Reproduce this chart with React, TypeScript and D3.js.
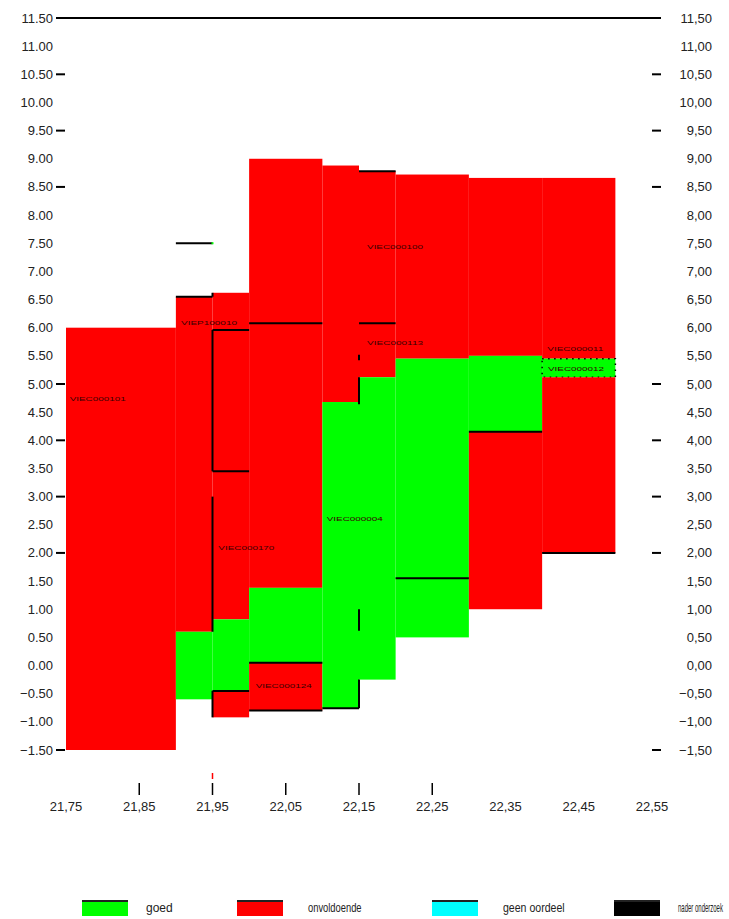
import React from "react";
import * as d3 from "d3";

// ---- data ----
const yTickValues = [11.5, 11, 10.5, 10, 9.5, 9, 8.5, 8, 7.5, 7, 6.5, 6, 5.5, 5, 4.5, 4, 3.5, 3, 2.5, 2, 1.5, 1, 0.5, 0, -0.5, -1, -1.5];
const yMarkedTicks = [10.5, 9.5, 8.5, 5, 4, 3, 2, -1.5];
const xTickValues = [21.75, 21.85, 21.95, 22.05, 22.15, 22.25, 22.35, 22.45, 22.55];
const xMarkedTicks = [21.85, 21.95, 22.05, 22.15, 22.25];
const xRedTicks = [21.95];

// blocks: [start km, end km, bottom, top, status]
const blockStart = [21.75, 21.9, 21.9, 21.95, 21.95, 21.95, 22.0, 22.0, 22.0, 22.1, 22.1, 22.15, 22.15, 22.2, 22.2, 22.3, 22.3, 22.3, 22.4, 22.4, 22.4];
const blockEnd = [21.9, 21.95, 21.95, 22.0, 22.0, 22.0, 22.1, 22.1, 22.1, 22.15, 22.15, 22.2, 22.2, 22.3, 22.3, 22.4, 22.4, 22.4, 22.5, 22.5, 22.5];
const blockLow = [-1.5, 0.6, -0.6, 0.82, -0.45, -0.92, 1.38, 0.05, -0.8, 4.68, -0.76, 5.12, -0.25, 5.45, 0.5, 5.5, 4.15, 1.0, 5.45, 5.12, 2.0];
const blockHigh = [6.0, 6.55, 0.6, 6.62, 0.82, -0.45, 9.0, 1.38, 0.05, 8.88, 4.68, 8.78, 5.12, 8.72, 5.45, 8.66, 5.5, 4.15, 8.66, 5.45, 5.12];
const blockStatus = ["o", "o", "g", "o", "g", "o", "o", "g", "o", "o", "g", "o", "g", "o", "g", "o", "g", "o", "o", "gd", "o"];

// horizontal black lines: start, end, value
const hLineStart = [21.9, 21.9, 21.95, 21.95, 22.0, 22.15, 22.15, 22.2, 22.3, 22.4, 21.95, 22.0, 22.0, 22.1];
const hLineEnd = [21.95, 21.95, 22.0, 22.0, 22.1, 22.2, 22.2, 22.3, 22.4, 22.5, 22.0, 22.1, 22.1, 22.15];
const hLineValue = [7.5, 6.55, 5.96, 3.45, 6.08, 6.08, 8.78, 1.55, 4.15, 2.0, -0.45, 0.05, -0.8, -0.76];

// vertical black lines: km, from, to
const vLineKm = [21.95, 21.95, 21.95, 21.95, 22.15, 22.15, 22.15, 22.15];
const vLineFrom = [6.55, 3.45, 0.6, -0.92, 5.42, 4.64, 0.62, -0.76];
const vLineTo = [6.62, 5.96, 3.0, -0.45, 5.52, 5.12, 1.0, -0.25];

// small green marker at end of the 7.50 line
const markerKm = [21.95];
const markerValue = [7.5];

// section labels
const labelText = ["VIEC000101", "VIEP100010", "VIEC000100", "VIEC000113", "VIEC000004", "VIEC000170", "VIEC000124", "VIEC000011", "VIEC000012"];
const labelKm = [21.755, 21.907, 22.161, 22.161, 22.106, 21.958, 22.009, 22.407, 22.408];
const labelValue = [4.74, 6.08, 7.43, 5.73, 2.6, 2.09, -0.37, 5.62, 5.27];

const legendLabels = ["goed", "onvoldoende", "geen oordeel", "nader onderzoek"];
const legendColors = ["#00ff00", "#ff0000", "#00ffff", "#000000"];
const legendX = [82, 237, 432, 614];
const legendTextX = [146, 308, 503, 678];
const legendScale = [1, 0.78, 0.88, 0.5];

const statusColor: Record<string, string> = { o: "#ff0000", g: "#00ff00", gd: "#00ff00" };

export default function App() {
  const x = d3.scaleLinear().domain([21.75, 22.55]).range([66, 652]);
  const y = d3.scaleLinear().domain([-1.5, 11.5]).range([750, 18]);
  const fmtL = d3.format(".2f");
  const fmtR = (v: number) => d3.format(".2f")(v).replace(".", ",");
  const font = "'Liberation Sans', Arial, sans-serif";

  return (
    <div style={{ position: "absolute", left: 0, top: 0 }}>
      <svg width={729} height={919} style={{ display: "block", background: "#fff" }} fontFamily={font}>
        {/* blocks */}
        {blockStart.map((s, i) => (
          <rect
            key={"b" + i}
            x={x(s)}
            y={y(blockHigh[i])}
            width={x(blockEnd[i]) - x(s)}
            height={y(blockLow[i]) - y(blockHigh[i])}
            fill={statusColor[blockStatus[i]]}
            stroke={blockStatus[i] === "gd" ? "#000" : "none"}
            strokeWidth={blockStatus[i] === "gd" ? 1.5 : 0}
            strokeDasharray={blockStatus[i] === "gd" ? "1.5 4.5" : undefined}
          />
        ))}
        {/* horizontal lines */}
        {hLineStart.map((s, i) => (
          <line key={"h" + i} x1={x(s)} x2={x(hLineEnd[i])} y1={y(hLineValue[i])} y2={y(hLineValue[i])} stroke="#000" strokeWidth={2} />
        ))}
        {/* vertical lines */}
        {vLineKm.map((k, i) => (
          <line key={"v" + i} x1={x(k)} x2={x(k)} y1={y(vLineFrom[i])} y2={y(vLineTo[i])} stroke="#000" strokeWidth={2} />
        ))}
        {markerKm.map((k, i) => (
          <rect key={"m" + i} x={x(k) - 1} y={y(markerValue[i]) - 1} width={2} height={2} fill="#00ff00" />
        ))}
        {/* labels */}
        {labelText.map((t, i) => (
          <text key={"l" + i} x={x(labelKm[i])} y={y(labelValue[i])} fontSize={6} dominantBaseline="central" fill="#3a0000" textLength={56} lengthAdjust="spacingAndGlyphs">
            {t}
          </text>
        ))}
        {/* top line */}
        <line x1={56} x2={661} y1={y(11.5)} y2={y(11.5)} stroke="#000" strokeWidth={2} />
        {/* y ticks */}
        {yMarkedTicks.map((v, i) => (
          <g key={"yt" + i}>
            <line x1={56} x2={65} y1={y(v)} y2={y(v)} stroke="#000" strokeWidth={2} />
            <line x1={652} x2={661} y1={y(v)} y2={y(v)} stroke="#000" strokeWidth={2} />
          </g>
        ))}
        {yTickValues.map((v, i) => (
          <g key={"yl" + i}>
            <text x={53} y={y(v)} textAnchor="end" dominantBaseline="central" fontSize={13} fill="#222">
              {fmtL(v)}
            </text>
            <text x={712} y={y(v)} textAnchor="end" dominantBaseline="central" fontSize={13} fill="#222">
              {fmtR(v)}
            </text>
          </g>
        ))}
        {/* x ticks */}
        {xMarkedTicks.map((v, i) => (
          <line key={"xt" + i} x1={x(v)} x2={x(v)} y1={783} y2={795} stroke="#000" strokeWidth={1.5} />
        ))}
        {xRedTicks.map((v, i) => (
          <line key={"xr" + i} x1={x(v)} x2={x(v)} y1={773} y2={779} stroke="#ff0000" strokeWidth={1.5} />
        ))}
        {xTickValues.map((v, i) => (
          <text key={"xl" + i} x={x(v)} y={806} textAnchor="middle" dominantBaseline="central" fontSize={13} fill="#222">
            {fmtR(v)}
          </text>
        ))}
        {/* legend */}
        {legendLabels.map((l, i) => (
          <g key={"lg" + i}>
            <rect x={legendX[i]} y={900} width={46} height={16} fill={legendColors[i]} />
            <line x1={legendX[i]} x2={legendX[i] + 46} y1={901} y2={901} stroke="#222" strokeWidth={2} />
            <g transform={`translate(${legendTextX[i]},908) scale(${legendScale[i]},1)`}>
              <text x={0} y={0} dominantBaseline="central" fontSize={12} fill="#222">
                {l}
              </text>
            </g>
          </g>
        ))}
      </svg>
    </div>
  );
}
